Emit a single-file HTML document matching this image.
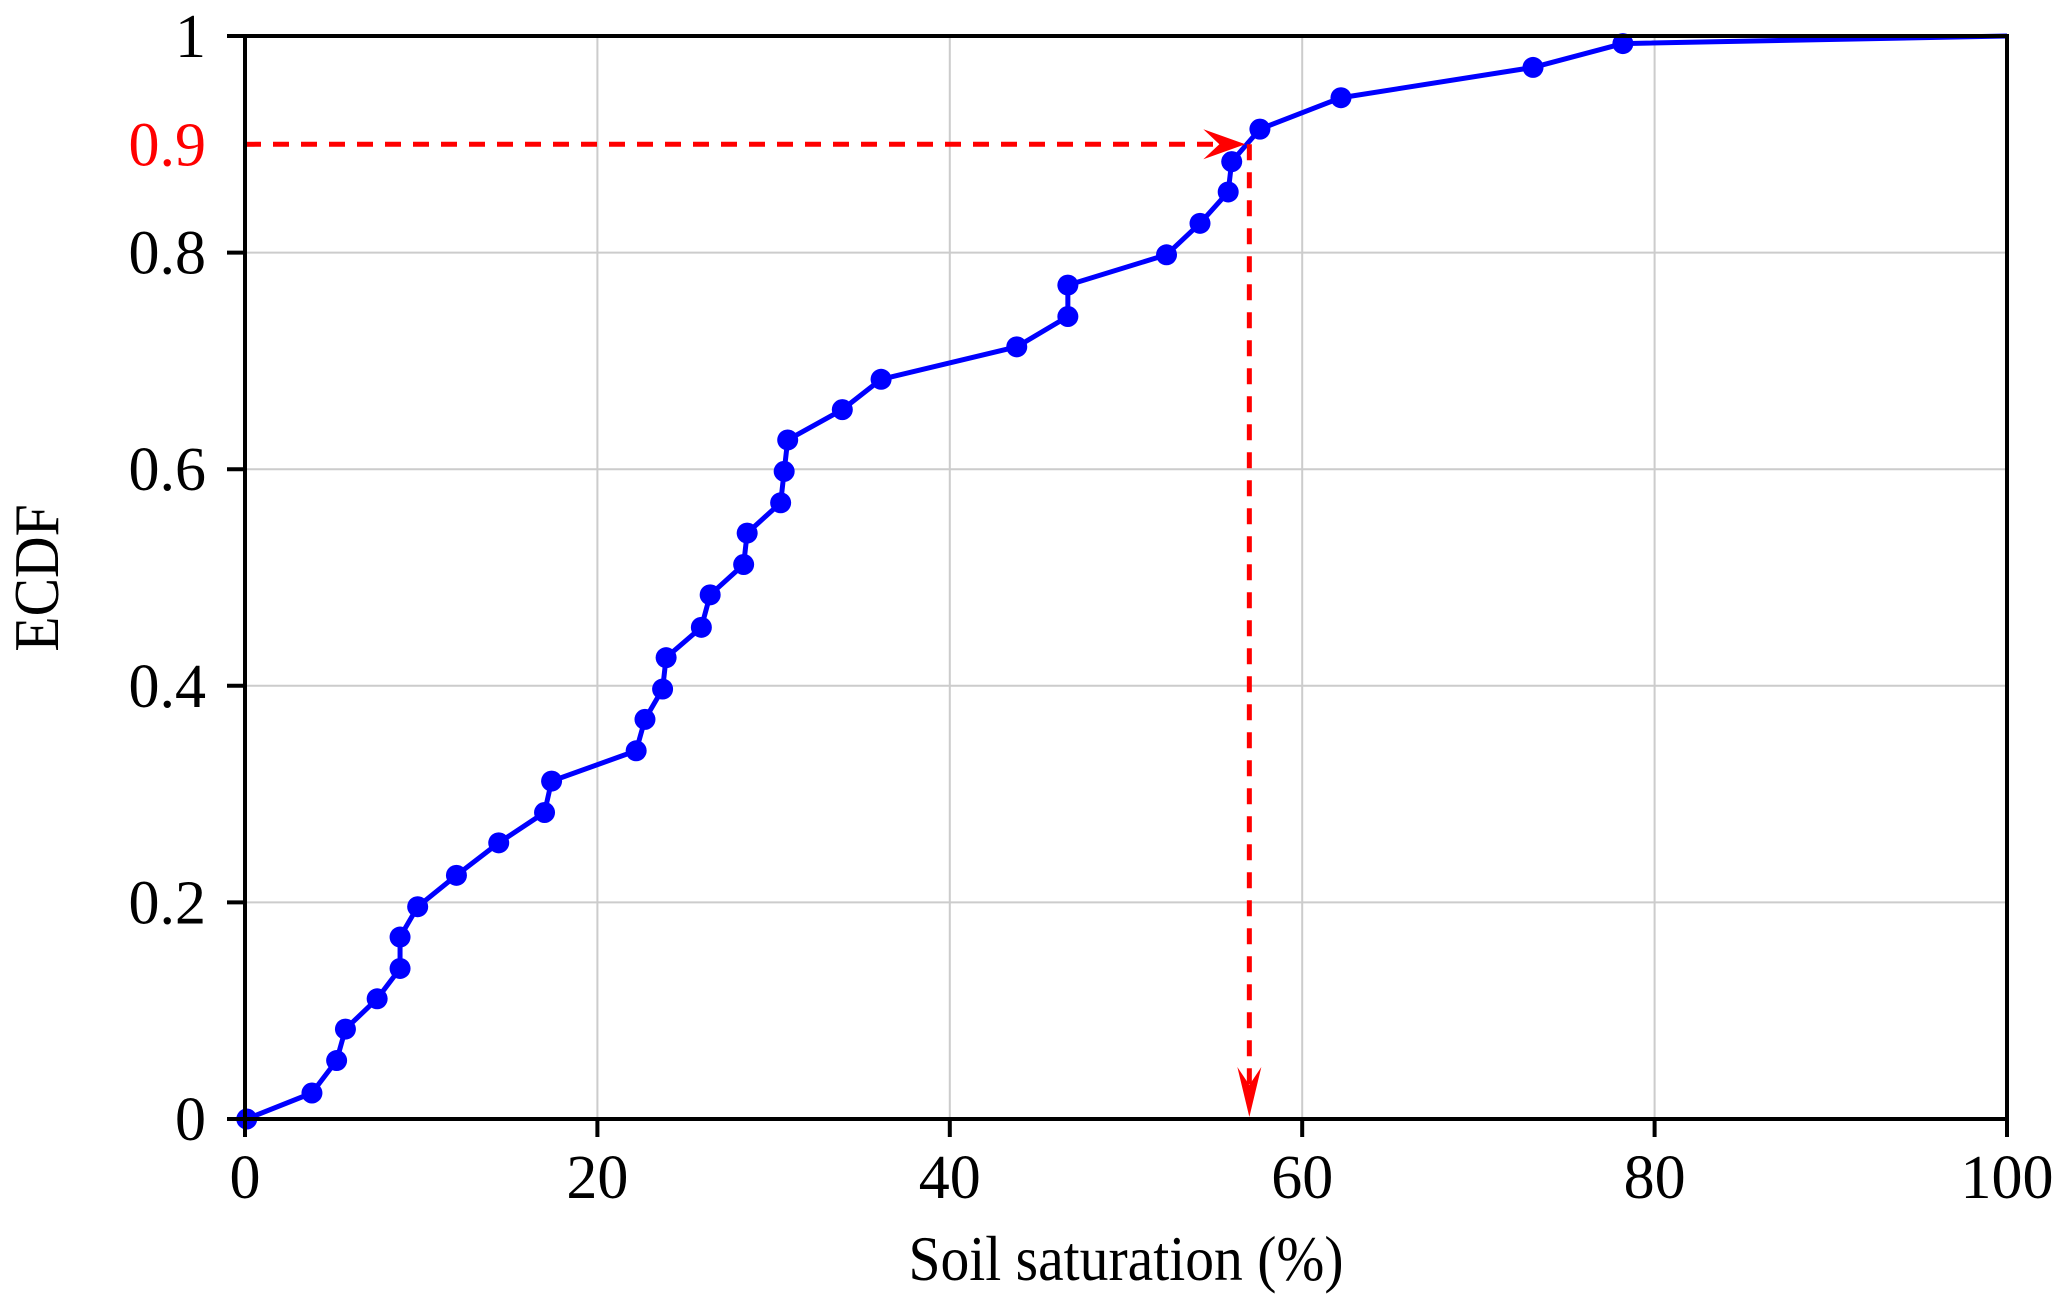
<!DOCTYPE html>
<html><head><meta charset="utf-8"><style>
html,body{margin:0;padding:0;background:#fff;}
svg text{font-family:"Liberation Serif",serif;}
</style></head><body>
<svg id="chart" width="2067" height="1311" viewBox="0 0 2067 1311" xmlns="http://www.w3.org/2000/svg">
<g id="grid"></g>
<g id="series"></g>
<g id="annot"></g>
<g id="axes"></g>
<text x="0" y="0" font-size="60" text-anchor="middle" transform="translate(1126,1280) scale(0.96,1.05)">Soil saturation (%)</text>
<text x="0" y="0" font-size="60" text-anchor="middle" transform="translate(58,578) rotate(-90) scale(0.96,1.05)">ECDF</text>
</svg>
<script>
const xVals=[0.1,3.8,5.2,5.7,7.5,8.8,8.8,9.8,12.0,14.4,17.0,17.4,22.2,22.7,23.7,23.9,25.9,26.4,28.3,28.5,30.4,30.6,30.8,33.9,36.1,43.8,46.7,46.7,52.3,54.2,55.8,56.0,57.6,62.2,73.1,78.2];
const yVals=[0.0,0.024,0.054,0.083,0.111,0.139,0.168,0.196,0.225,0.255,0.283,0.312,0.34,0.369,0.397,0.426,0.454,0.484,0.512,0.541,0.569,0.598,0.627,0.655,0.683,0.713,0.741,0.770,0.798,0.827,0.856,0.884,0.914,0.943,0.971,0.993];
const endPoint=[100,1.0];
const xTicks=[0,20,40,60,80,100];
const yTicks=[0,0.2,0.4,0.6,0.8,1];
const yTickLabels=["0","0.2","0.4","0.6","0.8","1"];
const threshold=[57,0.9];
const thresholdLabel="0.9";

const X0=245,X1=2007,Y0=1119,Y1=36;
const sx=v=>X0+(v-0)/(100-0)*(X1-X0);
const sy=v=>Y0-(v-0)/(1-0)*(Y0-Y1);
const NS="http://www.w3.org/2000/svg";
function mk(tag,attrs,parent){const e=document.createElementNS(NS,tag);for(const k in attrs)e.setAttribute(k,attrs[k]);parent.appendChild(e);return e;}
const grid=document.getElementById('grid'),axes=document.getElementById('axes'),series=document.getElementById('series'),annot=document.getElementById('annot');

xTicks.forEach(t=>{
  const g=mk('line',{x1:sx(t),x2:sx(t),y1:Y0,y2:Y1,stroke:'#cccccc','stroke-width':2},grid);
  
  
  const tk=mk('line',{x1:sx(t),x2:sx(t),y1:Y0,y2:Y0+18,stroke:'#000','stroke-width':4},axes);
  
  
  const tx=mk('text',{x:sx(t),y:1198,'font-size':62,'text-anchor':'middle'},axes);
  tx.textContent=t;
  
  
});
yTicks.forEach((t,i)=>{
  const g=mk('line',{x1:X0,x2:X1,y1:sy(t),y2:sy(t),stroke:'#cccccc','stroke-width':2},grid);
  
  
  const tk=mk('line',{x1:X0-18,x2:X0,y1:sy(t),y2:sy(t),stroke:'#000','stroke-width':4},axes);
  
  
  const tx=mk('text',{x:206,y:sy(t)+21,'font-size':62,'text-anchor':'end'},axes);
  tx.textContent=yTickLabels[i];
  
  
});
const frame=mk('rect',{x:X0,y:Y1,width:X1-X0,height:Y0-Y1,fill:'none',stroke:'#000','stroke-width':4},axes);



let pts=xVals.map((x,i)=>sx(x)+','+sy(yVals[i]));
pts.push(sx(endPoint[0])+','+sy(endPoint[1]));
const line=mk('polyline',{points:pts.join(' '),fill:'none',stroke:'#0000ff','stroke-width':5,'stroke-linejoin':'round'},series);


xVals.forEach((x,i)=>{
  const c=mk('circle',{cx:sx(x),cy:sy(yVals[i]),r:10.5,fill:'#0000ff'},series);
  
  
});

const tx=sx(threshold[0]),ty=sy(threshold[1]);
const h=mk('line',{x1:X0,y1:ty,x2:tx-30,y2:ty,stroke:'#ff0000','stroke-width':5,'stroke-dasharray':'16 12'},annot);


const ha=mk('polygon',{points:`${tx-4},${ty} ${tx-46},${ty-15} ${tx-30},${ty} ${tx-46},${ty+15}`,fill:'#ff0000'},annot);


const v=mk('line',{x1:tx,y1:ty,x2:tx,y2:Y0-30,stroke:'#ff0000','stroke-width':5,'stroke-dasharray':'16 12'},annot);


const va=mk('polygon',{points:`${tx},${Y0-2} ${tx-12},${Y0-52} ${tx},${Y0-34} ${tx+12},${Y0-52}`,fill:'#ff0000'},annot);


const lbl=mk('text',{x:206,y:ty+21,'font-size':62,'text-anchor':'end',fill:'#ff0000'},annot);
lbl.textContent=thresholdLabel;


</script>
</body></html>
